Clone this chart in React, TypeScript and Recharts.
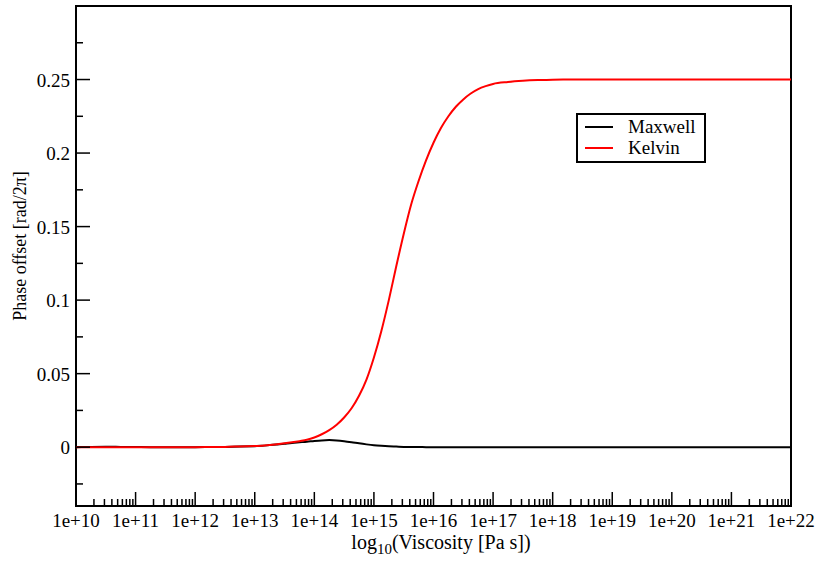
import {
  LineChart,
  Line,
  XAxis,
  YAxis,
  ReferenceArea,
  Legend,
} from 'recharts'

// log10 of viscosity [Pa s]; denser sampling across the transition
const logEta = [
  10, 10.25, 10.5, 10.75, 11, 11.25, 11.5, 11.75, 12, 12.25, 12.5, 12.75,
  13, 13.125, 13.25, 13.375, 13.5, 13.625, 13.75, 13.875,
  14, 14.125, 14.25, 14.375, 14.5, 14.625, 14.75, 14.875,
  15, 15.125, 15.25, 15.375, 15.5, 15.625, 15.75, 15.875,
  16, 16.125, 16.25, 16.375, 16.5, 16.625, 16.75, 16.875,
  17, 17.25, 17.5, 17.75, 18, 18.5, 19, 19.5, 20, 20.5, 21, 21.5, 22,
]

// phase offset [rad/2pi]
const maxwell = [
  0, 0.0002, 0.0003, 0.0002, 0.0001, 0, 0, 0, 0, 0.0001, 0.0002, 0.0004,
  0.0007, 0.0009, 0.0014, 0.0019, 0.0024, 0.0029, 0.0033, 0.0037,
  0.0042, 0.0046, 0.0048, 0.0046, 0.0041, 0.0034, 0.0026, 0.0019,
  0.0013, 0.0009, 0.0006, 0.0004, 0.0002, 0.0001, 0.0001, 0,
  0, 0, 0, 0, 0, 0, 0, 0,
  0, 0, 0, 0, 0, 0, 0, 0, 0, 0, 0, 0, 0,
]

const kelvin = [
  0, 0, 0, 0, 0, 0, 0, 0, 0, 0.0001, 0.0002, 0.0005,
  0.0008, 0.001, 0.0015, 0.002, 0.0026, 0.0033, 0.0041, 0.005,
  0.0066, 0.0088, 0.0116, 0.0153, 0.0202, 0.0265, 0.035, 0.046,
  0.061, 0.079, 0.1, 0.123, 0.145, 0.165, 0.181, 0.195,
  0.207, 0.217, 0.225, 0.2315, 0.2365, 0.2405, 0.2435, 0.2455,
  0.247, 0.2483, 0.2491, 0.2496, 0.2499, 0.25, 0.25, 0.25, 0.25, 0.25, 0.25, 0.25, 0.25,
]

const xDecades = [10, 11, 12, 13, 14, 15, 16, 17, 18, 19, 20, 21, 22]
const yMajor = [0, 0.05, 0.1, 0.15, 0.2, 0.25]
const yLabels = ['0', '0.05', '0.1', '0.15', '0.2', '0.25']
const yMinor = [-0.025, 0.025, 0.075, 0.125, 0.175, 0.225, 0.275]

const W = 818
const H = 561
const M = { top: 6, right: 27, bottom: 54, left: 75 }
const LEFT = 76
const BOTTOM = 506
const FONT = '"Liberation Serif", "Times New Roman", serif'

const data = logEta.map((x, i) => ({ x, maxwell: maxwell[i], kelvin: kelvin[i] }))

// decade ticks plus the 2..9 minor ticks in between
const xTicks: number[] = []
xDecades.forEach((d, i) => {
  xTicks.push(d)
  if (i < xDecades.length - 1) {
    for (let k = 2; k <= 9; k++) xTicks.push(d + Math.log10(k))
  }
})
const yTicks = [...yMajor, ...yMinor].sort((a, b) => a - b)

// ticks point into the plot area, xmgrace style
function XTick(props: any) {
  const { x, payload } = props
  const v = payload.value as number
  const major = Math.abs(v - Math.round(v)) < 1e-9
  return (
    <g>
      <line x1={x} x2={x} y1={BOTTOM} y2={BOTTOM - (major ? 14 : 7)} stroke="#000" strokeWidth={1.5} />
      {major && (
        <text x={x} y={527} textAnchor="middle" fontFamily={FONT} fontSize={19} fill="#000">
          {`1e+${Math.round(v)}`}
        </text>
      )}
    </g>
  )
}

function YTick(props: any) {
  const { y, payload } = props
  const v = payload.value as number
  const idx = yMajor.findIndex((m) => Math.abs(m - v) < 1e-9)
  const major = idx >= 0
  return (
    <g>
      <line x1={LEFT} x2={LEFT + (major ? 14 : 7)} y1={y} y2={y} stroke="#000" strokeWidth={1.5} />
      {major && (
        <text x={70} y={y} dy={7} textAnchor="end" fontFamily={FONT} fontSize={19} fill="#000">
          {yLabels[idx]}
        </text>
      )}
    </g>
  )
}

function XTitle() {
  return (
    <text x={441} y={549} textAnchor="middle" fontFamily={FONT} fontSize={20} fill="#000">
      log
      <tspan fontSize={15} dy={5}>10</tspan>
      <tspan dy={-5}>(Viscosity [Pa s])</tspan>
    </text>
  )
}

function YTitle() {
  return (
    <text
      x={26}
      y={246}
      transform="rotate(-90 26 246)"
      textAnchor="middle"
      fontFamily={FONT}
      fontSize={18}
      fill="#000"
    >
      Phase offset [rad/2π]
    </text>
  )
}

const legendItems = [
  { name: 'Maxwell', color: '#000' },
  { name: 'Kelvin', color: '#ff0000' },
]

function LegendBox() {
  return (
    <div
      style={{
        position: 'relative',
        width: 126,
        height: 46,
        border: '2px solid #000',
        background: '#fff',
        fontFamily: FONT,
        fontSize: 19,
        boxSizing: 'content-box',
      }}
    >
      {legendItems.map((it, i) => (
        <div key={it.name} style={{ position: 'absolute', left: 7, top: 1 + i * 21, display: 'flex', alignItems: 'center' }}>
          <span style={{ display: 'inline-block', width: 28, height: 2, background: it.color }} />
          <span style={{ marginLeft: 15, lineHeight: '22px' }}>{it.name}</span>
        </div>
      ))}
    </div>
  )
}

export default function App() {
  return (
    <div style={{ position: 'absolute', left: 0, top: 0, width: W, height: H, background: '#fff' }}>
      <LineChart width={W} height={H} data={data} margin={M}>
        <XAxis
          dataKey="x"
          type="number"
          domain={[10, 22]}
          ticks={xTicks}
          interval={0}
          height={1}
          axisLine={false}
          tickLine={false}
          tick={<XTick />}
          label={<XTitle />}
        />
        <YAxis
          type="number"
          domain={[-0.04, 0.3]}
          ticks={yTicks}
          interval={0}
          width={1}
          allowDataOverflow
          axisLine={false}
          tickLine={false}
          tick={<YTick />}
          label={<YTitle />}
        />
        <ReferenceArea x1={10} x2={22} y1={-0.04} y2={0.3} fill="none" stroke="#000" strokeWidth={2} />
        <Line
          type="monotone"
          dataKey="maxwell"
          name="Maxwell"
          stroke="#000"
          strokeWidth={2}
          dot={false}
          isAnimationActive={false}
        />
        <Line
          type="monotone"
          dataKey="kelvin"
          name="Kelvin"
          stroke="#ff0000"
          strokeWidth={2}
          dot={false}
          isAnimationActive={false}
        />
        <Legend
          layout="horizontal"
          align="center"
          verticalAlign="middle"
          content={<LegendBox />}
          wrapperStyle={{ position: 'absolute', left: 576, top: 113, width: 130, height: 50 }}
        />
      </LineChart>
    </div>
  )
}
